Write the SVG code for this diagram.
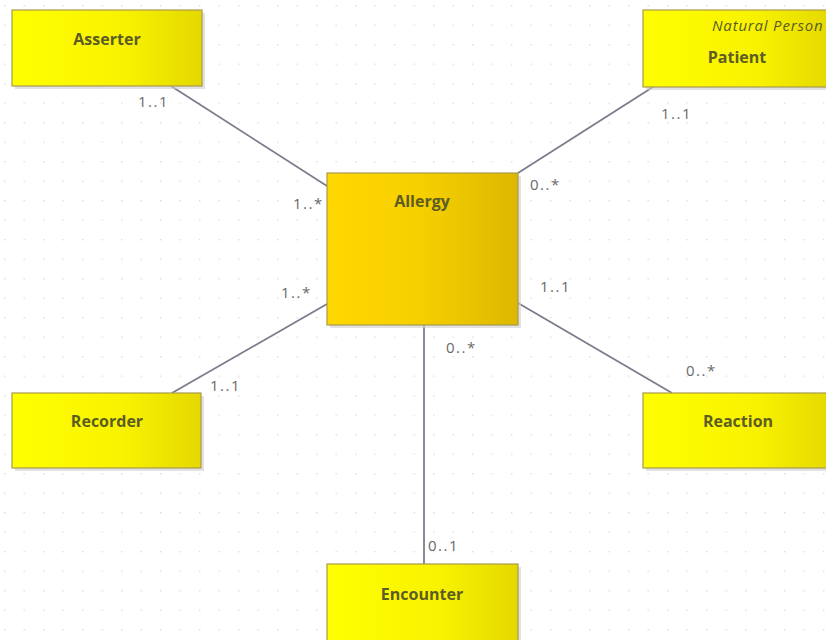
<svg xmlns="http://www.w3.org/2000/svg" width="826" height="640" viewBox="0 0 826 640">
<defs>
<pattern id="grid" x="4" y="5" width="19.5" height="19.5" patternUnits="userSpaceOnUse">
<rect x="0" y="0" width="1.4" height="1.4" fill="#dcdcdc"/>
</pattern>
<linearGradient id="yel" x1="0" y1="0" x2="1" y2="0">
<stop offset="0" stop-color="#ffff00"/>
<stop offset="0.6" stop-color="#f8f200"/>
<stop offset="1" stop-color="#e4d800"/>
</linearGradient>
<linearGradient id="gold" x1="0" y1="0" x2="1" y2="0">
<stop offset="0" stop-color="#ffd800"/>
<stop offset="0.5" stop-color="#f6cf00"/>
<stop offset="1" stop-color="#dcb800"/>
</linearGradient>
<style>
.shadow{fill:#cfcfcf;opacity:0.6}
.box{stroke:#a89a50;stroke-width:1.2}
.name{font-family:"Open Sans","Noto Sans",sans-serif;font-weight:bold;font-size:16px;fill:#5c5c24;text-anchor:middle}
.stereo{font-family:"Open Sans","Noto Sans",sans-serif;font-style:italic;font-size:15px;letter-spacing:0.8px;fill:#5c5c24}
.mult{font-family:"Open Sans","Noto Sans",sans-serif;font-size:15px;letter-spacing:1.5px;fill:#6a6a6a}
.conn{stroke:#7c7c8c;stroke-width:1.8;fill:none}
</style>
</defs>
<rect width="826" height="640" fill="#ffffff"/>
<rect width="826" height="640" fill="url(#grid)"/>
<g id="connectors">
<line class="conn" x1="171" y1="86" x2="327" y2="186"/>
<line class="conn" x1="653" y1="87" x2="518" y2="173"/>
<line class="conn" x1="172" y1="393" x2="327" y2="304"/>
<line class="conn" x1="518" y1="303" x2="672" y2="393"/>
<line class="conn" x1="424" y1="325" x2="424" y2="564"/>
<text class="mult" x="138" y="107">1..1</text>
<text class="mult" x="293" y="209">1..*</text>
<text class="mult" x="530" y="190">0..*</text>
<text class="mult" x="661" y="119">1..1</text>
<text class="mult" x="281" y="298">1..*</text>
<text class="mult" x="540" y="292">1..1</text>
<text class="mult" x="446" y="353">0..*</text>
<text class="mult" x="210" y="391">1..1</text>
<text class="mult" x="686" y="376">0..*</text>
<text class="mult" x="428" y="551">0..1</text>
</g>
<g id="asserter">
<rect class="shadow" x="15" y="13" width="190" height="76"/>
<rect class="box" x="12" y="10" width="190" height="76" fill="url(#yel)"/>
<text class="name" x="107" y="45">Asserter</text>
</g>
<g id="patient">
<rect class="shadow" x="646" y="13" width="190" height="77"/>
<rect class="box" x="643" y="10" width="190" height="77" fill="url(#yel)"/>
<text class="stereo" x="712" y="31">Natural Person</text>
<text class="name" x="737" y="63">Patient</text>
</g>
<g id="allergy">
<rect class="shadow" x="330" y="176" width="191" height="152"/>
<rect class="box" x="327" y="173" width="191" height="152" fill="url(#gold)"/>
<text class="name" x="422" y="207">Allergy</text>
</g>
<g id="recorder">
<rect class="shadow" x="15" y="396" width="189" height="75"/>
<rect class="box" x="12" y="393" width="189" height="75" fill="url(#yel)"/>
<text class="name" x="107" y="427">Recorder</text>
</g>
<g id="reaction">
<rect class="shadow" x="646" y="396" width="190" height="75"/>
<rect class="box" x="643" y="393" width="190" height="75" fill="url(#yel)"/>
<text class="name" x="738" y="427">Reaction</text>
</g>
<g id="encounter">
<rect class="shadow" x="330" y="567" width="191" height="80"/>
<rect class="box" x="327" y="564" width="191" height="80" fill="url(#yel)"/>
<text class="name" x="422" y="600">Encounter</text>
</g>
</svg>
